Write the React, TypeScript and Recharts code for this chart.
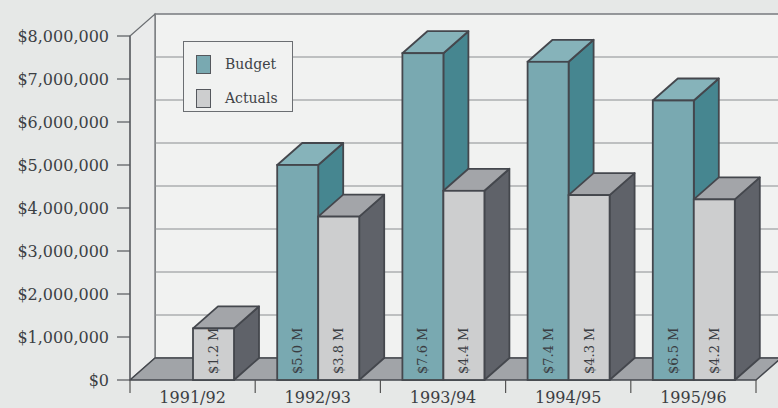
import React from "react";
import { BarChart, Bar, XAxis, YAxis, ReferenceArea, Legend } from "recharts";

const categories = ["1991/92", "1992/93", "1993/94", "1994/95", "1995/96"];
// millions of dollars
const budget = [null, 5.0, 7.6, 7.4, 6.5];
const actuals = [1.2, 3.8, 4.4, 4.3, 4.2];
const yTicks = [0, 1, 2, 3, 4, 5, 6, 7, 8].map((m) => m * 1000000);

const data = categories.map((year, i) => ({
  year,
  budget: budget[i] == null ? null : budget[i]! * 1000000,
  actuals: actuals[i] * 1000000,
}));

const DX = 25;
const DY = -22;
const OUTLINE = "#44474d";
const FONT = "'DejaVu Serif', 'Liberation Serif', serif";

const COLORS = {
  budget: { front: "#79a9b1", top: "#86b3ba", side: "#468690" },
  actuals: { front: "#cdcecf", top: "#a3a5a9", side: "#5f6269" },
};

function box(kind: "budget" | "actuals") {
  return (props: any) => {
    const { x, y, width, height, value } = props;
    if (value == null || !height) return null;
    const c = COLORS[kind];
    const w = width;
    const h = height;
    const m = Array.isArray(value) ? value[1] : value;
    const label = `$${(m / 1000000).toFixed(1)} M`;
    return (
      <g>
        <polygon
          points={`${x + w},${y} ${x + w + DX},${y + DY} ${x + w + DX},${y + h + DY} ${x + w},${y + h}`}
          fill={c.side}
          stroke={OUTLINE}
          strokeWidth={1.8}
          strokeLinejoin="round"
        />
        <polygon
          points={`${x},${y} ${x + DX},${y + DY} ${x + w + DX},${y + DY} ${x + w},${y}`}
          fill={c.top}
          stroke={OUTLINE}
          strokeWidth={1.8}
          strokeLinejoin="round"
        />
        <rect x={x} y={y} width={w} height={h} fill={c.front} stroke={OUTLINE} strokeWidth={1.8} />
        <text
          x={x + w / 2}
          y={y + h - 6}
          transform={`rotate(-90 ${x + w / 2} ${y + h - 6})`}
          textAnchor="start"
          dominantBaseline="central"
          fontFamily={FONT}
          fontSize={13}
          fill="#3a3d42"
        >
          {label}
        </text>
      </g>
    );
  };
}

// back wall, side wall, floor and category ticks of the 3-D frame
function Frame(props: any) {
  const { x, y, width, height } = props;
  const n = categories.length;
  const bottom = y + height;
  const grid = yTicks.map((t) => bottom - (t / yTicks[yTicks.length - 1]) * height);
  return (
    <g>
      <rect x={x + DX} y={y + DY} width={width} height={height} fill="#f1f2f1" stroke="#6b6e72" strokeWidth={1.2} />
      <polygon
        points={`${x},${y} ${x + DX},${y + DY} ${x + DX},${bottom + DY} ${x},${bottom}`}
        fill="#eaebeb"
        stroke="#6b6e72"
        strokeWidth={1.2}
      />
      {grid.map((gy, i) => (
        <line key={i} x1={x + DX} x2={x + DX + width} y1={gy + DY} y2={gy + DY} stroke="#8a8d90" strokeWidth={1} />
      ))}
      <polygon
        points={`${x},${bottom} ${x + width},${bottom} ${x + width + DX},${bottom + DY} ${x + DX},${bottom + DY}`}
        fill="#a1a4a8"
        stroke={OUTLINE}
        strokeWidth={1.5}
        strokeLinejoin="round"
      />
      {categories.concat([""]).map((_, k) => (
        <line
          key={k}
          x1={x + (k * width) / n}
          x2={x + (k * width) / n}
          y1={bottom}
          y2={bottom + 13}
          stroke="#555"
          strokeWidth={1.2}
        />
      ))}
    </g>
  );
}

function LegendBox() {
  const items = [
    { name: "Budget", color: COLORS.budget.front },
    { name: "Actuals", color: COLORS.actuals.front },
  ];
  return (
    <div
      style={{
        width: 110,
        height: 71,
        boxSizing: "border-box",
        border: "1.5px solid #6b6e72",
        background: "#f1f2f1",
        paddingTop: 9,
        paddingLeft: 12,
      }}
    >
      {items.map((it) => (
        <div key={it.name} style={{ display: "flex", alignItems: "center", height: 26, marginBottom: 8 }}>
          <span
            style={{
              display: "inline-block",
              width: 15,
              height: 19,
              boxSizing: "border-box",
              border: "1.5px solid #55585d",
              background: it.color,
              marginRight: 14,
            }}
          />
          <span style={{ fontFamily: FONT, fontSize: 14, color: "#404347" }}>{it.name}</span>
        </div>
      ))}
    </div>
  );
}

export default function App() {
  return (
    <div style={{ position: "absolute", left: 0, top: 0, width: 778, height: 408, background: "#e6e8e7" }}>
      <BarChart
        width={778}
        height={408}
        data={data}
        margin={{ top: 36, right: 22, bottom: 0, left: 0 }}
        barGap={0}
      >
        <ReferenceArea y1={0} y2={8000000} shape={<Frame />} ifOverflow="visible" zIndex={-50} />
        <XAxis
          dataKey="year"
          height={28}
          axisLine={false}
          tickLine={false}
          tickSize={6}
          tickMargin={6}
          interval={0}
          tick={{ fontFamily: FONT, fontSize: 16, fill: "#3c3f44" }}
        />
        <YAxis
          width={130}
          domain={[0, 8000000]}
          ticks={yTicks}
          interval={0}
          tickSize={13}
          tickMargin={8}
          axisLine={{ stroke: "#55585d", strokeWidth: 1.2 }}
          tickLine={{ stroke: "#55585d", strokeWidth: 1.2 }}
          tickFormatter={(v: number) => `$${v.toLocaleString("en-US")}`}
          tick={{ fontFamily: FONT, fontSize: 16, fill: "#3c3f44" }}
        />
        <Legend
          layout="vertical"
          align="center"
          verticalAlign="middle"
          content={() => <LegendBox />}
          wrapperStyle={{ left: 183, top: 41, width: 110 }}
        />
        <Bar dataKey="budget" barSize={41} shape={box("budget")} isAnimationActive={false} />
        <Bar dataKey="actuals" barSize={41} shape={box("actuals")} isAnimationActive={false} />
      </BarChart>
    </div>
  );
}
